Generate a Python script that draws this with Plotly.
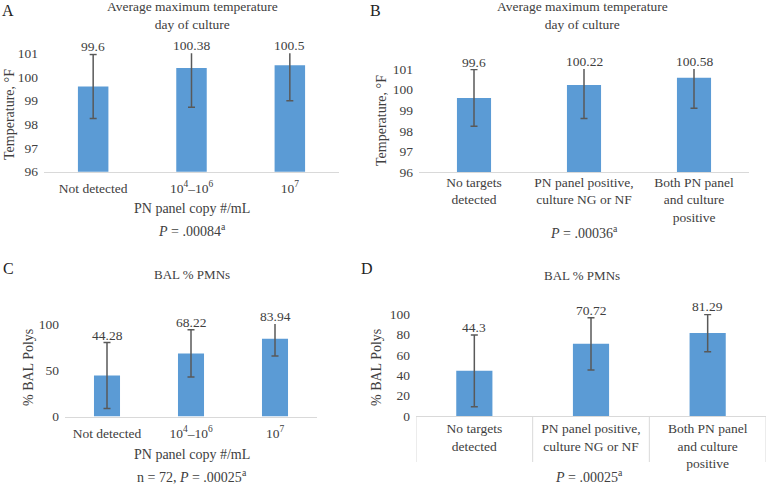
import plotly.graph_objects as go

# ---------------- data ----------------
cat_copy = ["Not detected", "10<sup>4</sup>–10<sup>6</sup>", "10<sup>7</sup>"]
cat_group = ["No targets<br>detected", "PN panel positive,<br>culture NG or NF",
             "Both PN panel<br>and culture<br>positive"]

temp_copy = [99.6, 100.38, 100.5]
temp_copy_err = [1.35, 1.66, 1.5]
temp_group = [99.6, 100.22, 100.58]
temp_group_err = [1.37, 1.61, 1.48]
pmn_copy = [44.28, 68.22, 83.94]
pmn_copy_err = [35.7, 25.5, 18.4]
pmn_group = [44.3, 70.72, 81.29]
pmn_group_err = [35.2, 25.7, 18.3]

temp_ticks = [96, 97, 98, 99, 100, 101]
pmn_ticks_c = [0, 50, 100]
pmn_ticks_d = [0, 20, 40, 60, 80, 100]

# ---------------- style ----------------
W, H = 768, 484
FONT = "Liberation Serif"
TXT = "#404040"
BAR = "#5B9BD5"
ERR = "#595959"
AXL = "#D9D9D9"


def px(x):
    return x / W


def py(y):
    return 1 - y / H


fig = go.Figure()

panels = [
    # axis suffix, cats, vals, errs, yrange, ticks, domain px (x0,x1,ytop,ybottom), x-label standoff
    ("", cat_copy, temp_copy, temp_copy_err, [96, 101], temp_ticks, (44, 339, 53.3, 171.7), 4),
    ("2", cat_group, temp_group, temp_group_err, [96, 101], temp_ticks, (419, 749, 69, 172.3), -3),
    ("3", cat_copy, pmn_copy, pmn_copy_err, [0, 100], pmn_ticks_c, (65, 317, 324, 416.5), 4),
    ("4", cat_group, pmn_group, pmn_group_err, [0, 100], pmn_ticks_d, (416, 766, 314, 416), 0),
]

annotations = []
shapes = []
for suf, cats, vals, errs, yr, ticks, (x0, x1, yt, yb), so in panels:
    xa, ya = "x" + suf, "y" + suf
    fig.add_trace(go.Bar(
        x=cats, y=vals, xaxis=xa, yaxis=ya, width=0.31,
        marker=dict(color=BAR, line=dict(width=0)),
        error_y=dict(type="data", array=errs, visible=True, color=ERR,
                     thickness=1.5, width=3.5),
        hoverinfo="x+y", showlegend=False,
    ))
    fig.update_layout(**{
        "xaxis" + suf: dict(domain=[px(x0), px(x1)], anchor=ya, type="category",
                            range=[-0.5, 2.5], showline=True, linecolor=AXL, linewidth=1,
                            ticks="", showgrid=False, zeroline=False, automargin=False,
                            tickfont=dict(family=FONT, size=13.5, color=TXT),
                            ticklabelstandoff=so),
        "yaxis" + suf: dict(domain=[py(yb), py(yt)], anchor=xa, range=yr,
                            tickvals=ticks, showline=False, showgrid=False,
                            zeroline=False, ticks="", automargin=False,
                            tickfont=dict(family=FONT, size=13.5, color=TXT),
                            ticklabelstandoff=5),
    })
    # value labels above the error bars
    for c, v, e in zip(cats, vals, errs):
        annotations.append(dict(
            x=c, y=min(v + e, yr[1]), xref=xa, yref=ya, text=f"{v:g}",
            showarrow=False, yanchor="bottom", yshift=-2,
            font=dict(family=FONT, size=13.5, color=TXT)))

# category separators for panel D
for b in [-0.5, 0.5, 1.5, 2.5]:
    shapes.append(dict(type="line", xref="x4", yref="y4 domain",
                       x0=b, x1=b, y0=0, y1=-(462 - 416) / (416 - 314),
                       line=dict(color=AXL, width=1)))


def txt(x, y, t, size=13, angle=0, color=TXT):
    annotations.append(dict(x=px(x), y=py(y), xref="paper", yref="paper", text=t,
                            showarrow=False, xanchor="center", yanchor="middle",
                            textangle=angle, font=dict(family=FONT, size=size, color=color)))


# panel letters
txt(8, 11, "A", 16, color="#222222")
txt(375, 11, "B", 16, color="#222222")
txt(8, 268, "C", 16, color="#222222")
txt(367, 268, "D", 16, color="#222222")

# titles
txt(192, 15.5, "Average maximum temperature<br>day of culture", 13.5)
txt(582, 15.5, "Average maximum temperature<br>day of culture", 13.5)
txt(192, 274, "BAL % PMNs", 13)
txt(582, 275, "BAL % PMNs", 13)

# y-axis titles
txt(9, 115, "Temperature, °F", 14, angle=-90)
txt(381, 121, "Temperature, °F", 14, angle=-90)
txt(28, 368, "% BAL Polys", 14, angle=-90)
txt(376, 368, "% BAL Polys", 14, angle=-90)

# x-axis titles and p-values
txt(192, 208, "PN panel copy #/mL", 14)
txt(192, 230, "<i>P</i> = .00084<sup>a</sup>", 14)
txt(584, 232, "<i>P</i> = .00036<sup>a</sup>", 14)
txt(192, 454, "PN panel copy #/mL", 14)
txt(192, 476, "n = 72, <i>P</i> = .00025<sup>a</sup>", 14)
txt(589, 476, "<i>P</i> = .00025<sup>a</sup>", 14)

fig.update_layout(
    width=W, height=H, autosize=False,
    margin=dict(l=0, r=0, t=0, b=0, pad=0),
    paper_bgcolor="white", plot_bgcolor="white",
    font=dict(family=FONT, color=TXT),
    annotations=annotations, shapes=shapes,
)

fig.write_html(
    "out.html",
    config={"displayModeBar": False},
    post_script="document.body.style.margin='0';document.body.style.padding='0';"
                "document.body.style.overflow='hidden';",
)
